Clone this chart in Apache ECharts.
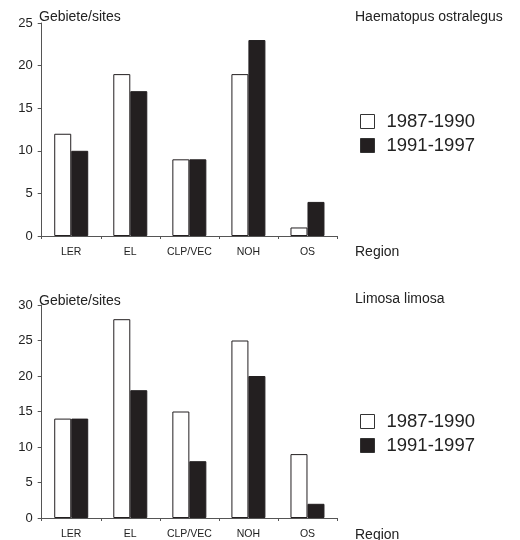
<!DOCTYPE html>
<html>
<head>
<meta charset="utf-8">
<script src="https://cdn.jsdelivr.net/npm/echarts@6/dist/echarts.min.js"></script>
<style>html,body{margin:0;padding:0;background:#fff}#c{width:520px;height:540px}</style>
</head>
<body>
<div id="c"></div>
<script>
const categories = ['LER', 'EL', 'CLP/VEC', 'NOH', 'OS'];
const seriesNames = ['1987-1990', '1991-1997'];
const haemEarly = [12, 19, 9, 19, 1];
const haemLate = [10, 17, 9, 23, 4];
const limEarly = [14, 28, 15, 25, 9];
const limLate = [14, 18, 8, 20, 2];
const haemMax = 25;
const limMax = 30;
const tickStep = 5;
const yAxisTitle = 'Gebiete/sites';
const xAxisTitle = 'Region';
const species = ['Haematopus ostralegus', 'Limosa limosa'];

const FONT = 'Liberation Sans, Arial, sans-serif';
const DARK = '#231f20';
const AXIS = '#555';

function xAxisDef(gi) {
  return {
    type: 'category', gridIndex: gi, data: categories,
    axisLine: { lineStyle: { color: AXIS, width: 1 } },
    axisTick: { show: true, length: 3, lineStyle: { color: AXIS } },
    axisLabel: { fontFamily: FONT, fontSize: 10.5, color: '#222', margin: 11 }
  };
}
function yAxisDef(gi, max) {
  return {
    type: 'value', gridIndex: gi, min: 0, max: max, interval: tickStep,
    splitLine: { show: false },
    axisLine: { show: true, lineStyle: { color: AXIS, width: 1 } },
    axisTick: { show: true, length: 4, lineStyle: { color: AXIS } },
    axisLabel: { fontFamily: FONT, fontSize: 13, color: '#222', margin: 9 }
  };
}
function barSeries(name, data, gi, white) {
  return {
    name: name, type: 'bar', xAxisIndex: gi, yAxisIndex: gi, data: data,
    barWidth: 17, barGap: '0%',
    itemStyle: { color: white ? '#fff' : DARK, borderColor: DARK, borderWidth: 1 },
    emphasis: { disabled: true }
  };
}
function legendDef(top) {
  return {
    orient: 'vertical', left: 360, top: top, padding: 0, itemWidth: 14, itemHeight: 14, itemGap: 5,
    icon: 'rect', data: seriesNames, selectedMode: false,
    itemStyle: { borderWidth: 1, borderColor: '#333' },
    textStyle: { fontFamily: FONT, fontSize: 18.5, color: '#222', padding: [0, 0, 0, 7] }
  };
}
function txt(text, x, y, size) {
  return { type: 'text', x: x, y: y, style: { text: text, font: size + 'px ' + FONT, fill: '#222', verticalAlign: 'middle', align: 'left' } };
}

const chart = echarts.init(document.getElementById('c'));
chart.setOption({
  animation: false,
  grid: [
    { left: 41.7, right: 183, top: 23, bottom: 304 },
    { left: 41.7, right: 183, top: 305, bottom: 21 }
  ],
  xAxis: [xAxisDef(0), xAxisDef(1)],
  yAxis: [yAxisDef(0, haemMax), yAxisDef(1, limMax)],
  legend: [legendDef(112), legendDef(412)],
  series: [
    barSeries(seriesNames[0], haemEarly, 0, true),
    barSeries(seriesNames[1], haemLate, 0, false),
    barSeries(seriesNames[0], limEarly, 1, true),
    barSeries(seriesNames[1], limLate, 1, false)
  ],
  graphic: [
    txt(yAxisTitle, 39, 17, 14),
    txt(species[0], 355, 17, 14),
    txt(xAxisTitle, 355, 252, 14),
    txt(yAxisTitle, 39, 301, 14),
    txt(species[1], 355, 299, 14),
    txt(xAxisTitle, 355, 535, 14)
  ]
});
</script>
</body>
</html>
